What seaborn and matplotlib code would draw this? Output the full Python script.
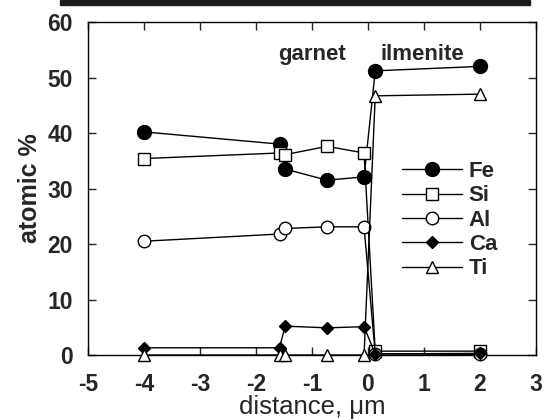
import matplotlib
matplotlib.use("Agg")
import matplotlib.pyplot as plt
import seaborn as sns
import pandas as pd

# distance across the garnet / ilmenite boundary (um)
distance = [-4.0, -1.58, -1.48, -0.73, -0.07, 0.13, 2.0]

fe = [40.2, 38.0, 33.5, 31.5, 32.1, 51.2, 52.0]
si = [35.4, 36.4, 36.1, 37.6, 36.4, 0.7, 0.7]
al = [20.5, 21.8, 22.8, 23.1, 23.1, 0.2, 0.1]
ca = [1.3, 1.3, 5.2, 4.9, 5.1, 0.2, 0.3]
ti = [0.0, 0.0, 0.0, 0.0, 0.0, 46.7, 47.0]

elements = ["Fe", "Si", "Al", "Ca", "Ti"]
values = [fe, si, al, ca, ti]

sns.set_style("ticks")
plt.rcParams['font.family'] = ['Liberation Sans', 'DejaVu Sans']
plt.rcParams['axes.unicode_minus'] = False

fig = plt.figure(figsize=(5.48, 4.19), dpi=100)
ax = fig.add_axes([0.1606, 0.1527, 0.8174, 0.7948])

# scan artefact band across the top
fig.patches.append(plt.Rectangle((0.11, 0.988), 0.857, 0.012, transform=fig.transFigure,
                                 color='#1c1c1c', zorder=0))

styles = {
    "Fe": dict(marker='o', markersize=10, markerfacecolor='black'),
    "Si": dict(marker='s', markersize=8, markerfacecolor='white'),
    "Al": dict(marker='o', markersize=9, markerfacecolor='white'),
    "Ca": dict(marker='D', markersize=6.5, markerfacecolor='black'),
    "Ti": dict(marker='^', markersize=8, markerfacecolor='white'),
}

for name, vals in zip(elements, values):
    df = pd.DataFrame({"distance": distance, "pct": vals})
    sns.lineplot(data=df, x="distance", y="pct", ax=ax, color='black', linewidth=1,
                 sort=False, markeredgecolor='black', markeredgewidth=1,
                 label=name, clip_on=False, zorder=3, **styles[name])

ax.set_xlim(-5, 3)
ax.set_ylim(0, 60)
ax.set_xticks(range(-5, 4))
ax.set_yticks(range(0, 61, 10))
ax.tick_params(direction='in', top=True, right=True, length=6, width=1, labelsize=16.5)
ax.tick_params(axis='x', pad=13)
ax.tick_params(axis='y', pad=11)
for lab in ax.get_xticklabels() + ax.get_yticklabels():
    lab.set_fontweight('bold')
for s in ax.spines.values():
    s.set_linewidth(1)
    s.set_color('black')

ax.set_xlabel("distance, \u03bcm", fontsize=18.5, labelpad=-1)
ax.set_ylabel("atomic %", fontsize=18, fontweight='bold', labelpad=4)

ax.text(-1.0, 53.2, "garnet", fontsize=16, fontweight='bold', ha='center', va='baseline')
ax.text(0.98, 53.2, "ilmenite", fontsize=16, fontweight='bold', ha='center', va='baseline')

leg = ax.legend(frameon=False, loc='upper left', bbox_to_anchor=(0.7336, 0.6158),
                bbox_transform=fig.transFigure, borderpad=0, borderaxespad=0,
                fontsize=16, handlelength=2.7, handletextpad=0.3, labelspacing=0.15)
for t in leg.get_texts():
    t.set_fontweight('bold')

fig.savefig("out.png", dpi=100)
